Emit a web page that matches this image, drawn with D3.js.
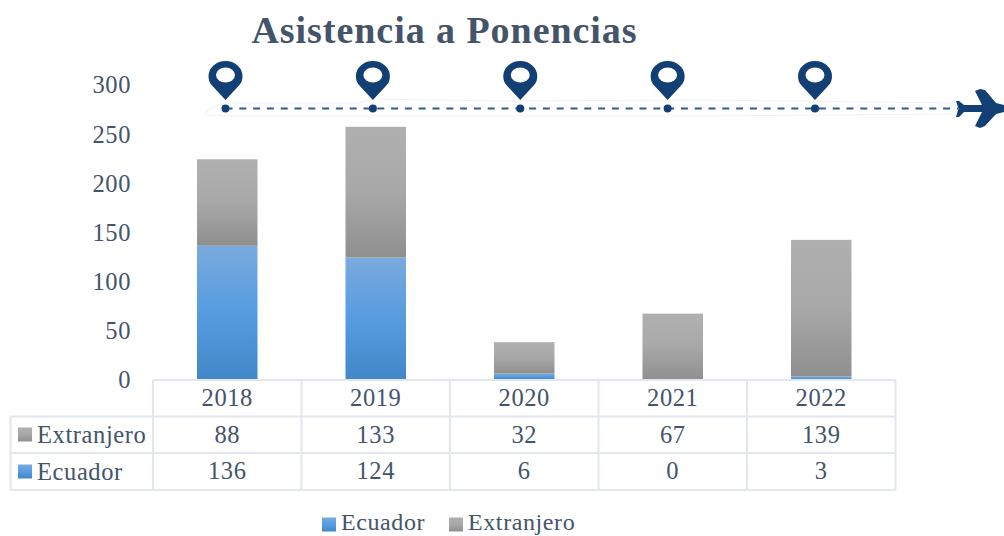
<!DOCTYPE html>
<html><head><meta charset="utf-8">
<script src="https://cdn.jsdelivr.net/npm/d3@7/dist/d3.min.js"></script>
<style>html,body{margin:0;padding:0;background:#fff}svg{display:block}text{font-family:"Liberation Serif",serif;fill:#44546a}</style>
</head><body><svg id="c" width="1004" height="536"></svg>
<script>
const years=["2018","2019","2020","2021","2022"];
const ecuador=[136,124,6,0,3];
const extranjero=[88,133,32,67,139];
const yTicks=[0,50,100,150,200,250,300];
const titleText="Asistencia a Ponencias";
const seriesNames=["Extranjero","Ecuador"];
const svg=d3.select("#c");
const x=d3.scaleBand().domain(years).range([153,895.5]).paddingInner(0).paddingOuter(0);
const y=d3.scaleLinear().domain([0,300]).range([379.5,84.5]);
const route=d3.scalePoint().domain(years).range([225.5,815]);
const defs=svg.append("defs");
function grad(id,stops){const g=defs.append("linearGradient").attr("id",id).attr("x1",0).attr("y1",0).attr("x2",0).attr("y2",1);
 stops.forEach(s=>g.append("stop").attr("offset",s[0]).attr("stop-color",s[1]));}
grad("gB",[[0,"#7aaade"],[0.5,"#569cdf"],[1,"#4288c8"]]);
grad("gG",[[0,"#b0b0b0"],[0.5,"#a8a8a8"],[1,"#8f8f8f"]]);
const bw=60.5;
const barX=d=>x(d)+x.bandwidth()/2-bw/2;
const g=svg.append("g");
years.forEach((yr,i)=>{
 if(ecuador[i]>0) g.append("rect").attr("x",barX(yr)).attr("width",bw).attr("y",y(ecuador[i])).attr("height",y(0)-y(ecuador[i])).attr("fill","url(#gB)");
 g.append("rect").attr("x",barX(yr)).attr("width",bw).attr("y",y(ecuador[i]+extranjero[i])).attr("height",y(ecuador[i])-y(ecuador[i]+extranjero[i])).attr("fill","url(#gG)");
});
const FS="24.5px",LS="0.6";
const ax=d3.axisLeft(y).tickValues(yTicks).tickSize(0).tickPadding(0);
const ag=svg.append("g").attr("transform","translate(131,0.5)").call(ax);
ag.select(".domain").remove();
ag.selectAll("text").style("font-size",FS).attr("dy","0.32em").attr("letter-spacing",LS);
const lines=svg.append("g").attr("stroke","#e2e6ee").attr("stroke-width",2).attr("fill","none");
const rows=[380,416.5,453,490];
const tableLeft=10.5,colEdges=x.domain().map(d=>x(d)).concat([x.range()[1]]);
lines.append("line").attr("x1",colEdges[0]).attr("x2",colEdges[5]).attr("y1",rows[0]).attr("y2",rows[0]);
rows.slice(1).forEach(r=>lines.append("line").attr("x1",tableLeft).attr("x2",colEdges[5]).attr("y1",r).attr("y2",r));
colEdges.forEach(c=>lines.append("line").attr("x1",c).attr("x2",c).attr("y1",rows[0]).attr("y2",rows[3]));
lines.append("line").attr("x1",tableLeft).attr("x2",tableLeft).attr("y1",rows[1]).attr("y2",rows[3]);
const cell=(t,cx,cy)=>svg.append("text").attr("x",cx).attr("y",cy).attr("text-anchor","middle").attr("dy","0.33em").style("font-size",FS).attr("letter-spacing",LS).text(t);
years.forEach((yr,i)=>{const cx=x(yr)+x.bandwidth()/2;
 cell(yr,cx,398);cell(extranjero[i],cx,434.5);cell(ecuador[i],cx,471);});
const leftLabel=(name,fill,sx,tx,cy,tcy,fs)=>{
 svg.append("rect").attr("x",sx).attr("y",cy-7).attr("width",14).attr("height",14).attr("fill",fill);
 svg.append("text").attr("x",tx).attr("y",tcy).attr("dy","0.33em").style("font-size",fs).attr("letter-spacing",LS).text(name);
};
leftLabel(seriesNames[0],"url(#gG)",18,37,434.5,434.5,FS);
leftLabel(seriesNames[1],"url(#gB)",18,37,471.5,471.5,FS);
leftLabel(seriesNames[1],"url(#gB)",322,341,524.5,522,"24px");
leftLabel(seriesNames[0],"url(#gG)",449,468,524.5,522,"24px");
svg.append("text").attr("x",444.5).attr("y",43).attr("text-anchor","middle").style("font-size","38px").style("font-weight","bold").attr("letter-spacing","0.95").text(titleText);
const routeY=108.5,navy="#123f74";
svg.append("path").attr("d","M205 112 L222 103 L360 103 L372 99 L500 101 L700 100 L955 103 L955 114 L700 116 L240 116 L205 115 Z").attr("fill","none").attr("stroke","#f0f2f5").attr("stroke-width",1);
svg.append("line").attr("x1",route(years[0])).attr("x2",958).attr("y1",routeY).attr("y2",routeY).attr("stroke","#2f5d8f").attr("stroke-width",2).attr("stroke-dasharray","7 6.8");
years.forEach(yr=>{
 const cx=route(yr);
 svg.append("circle").attr("cx",cx).attr("cy",routeY).attr("r",4).attr("fill",navy);
 const p=svg.append("g").attr("transform",`translate(${cx},0)`);
 p.append("path").attr("d","M0 100 L-13 86 C-16 83 -17 80 -17 76 A17 15 0 1 1 17 76 C17 80 16 83 13 86 Z").attr("fill",navy);
 p.append("ellipse").attr("cx",0).attr("cy",75).attr("rx",9.5).attr("ry",7.5).attr("fill","#fff");
});
svg.append("path").attr("d","M956 101 L959 101 L964 105 L982 105 L975 91 L980 89 L985 90 L996 103 L1004 105 L1004 112 L996 114 L985 126 L980 128 L975 126 L982 112 L964 112 L959 117 L956 117 L958.5 108.5 Z").attr("fill",navy);
</script></body></html>
